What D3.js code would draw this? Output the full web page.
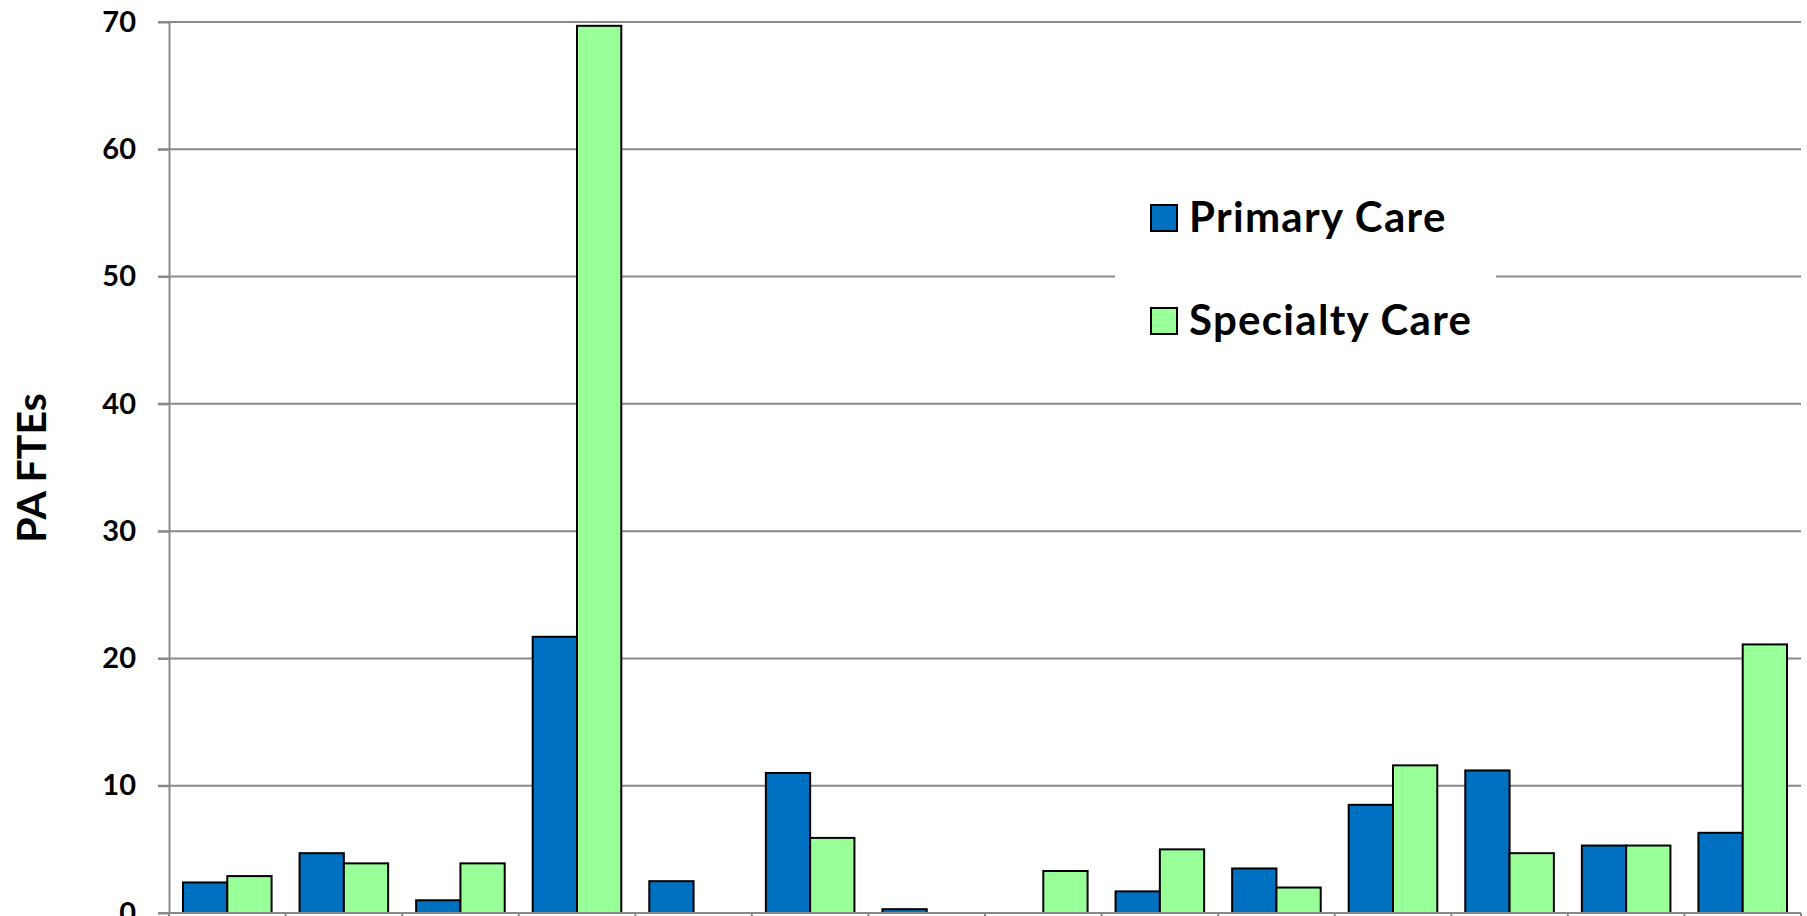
<!DOCTYPE html>
<meta charset="utf-8">
<html>
    <head>
        <style>
            html, body {
                margin: 0;
                padding: 0;
                background: #fff;
            }

            svg {
                display: block;
                font-family: Lato, "Open Sans", sans-serif;
                font-weight: bold;
            }

            .grid line {
                stroke: #898989;
                stroke-width: 2;
            }

            .axis path,
            .axis line {
                stroke: #898989;
                stroke-width: 2;
            }

            .bar {
                stroke: #000;
                stroke-width: 2;
            }
        </style>
    </head>
    <body>
        <svg width="1807" height="916"></svg>

        <script src="https://cdn.jsdelivr.net/npm/d3@7"></script>
        <script>
            // category labels sit below the visible area of the picture
            var categories = ['1', '2', '3', '4', '5', '6', '7', '8', '9', '10', '11', '12', '13', '14'];
            var series = ['Primary Care', 'Specialty Care'];
            var primaryCare = [2.4, 4.7, 1.0, 21.7, 2.5, 11.0, 0.3, 0, 1.7, 3.5, 8.5, 11.2, 5.3, 6.3];
            var specialtyCare = [2.9, 3.9, 3.9, 69.7, 0, 5.9, 0, 3.3, 5.0, 2.0, 11.6, 4.7, 5.3, 21.1];
            var yTicks = [0, 10, 20, 30, 40, 50, 60, 70];
            var colors = ['#0070c0', '#99ff99'];

            var svg = d3.select('svg');

            var plotLeft = 169, plotRight = 1801, plotTop = 22, plotBottom = 913;

            var x0 = d3.scaleBand()
                .domain(categories)
                .range([plotLeft, plotRight]);

            var x1 = d3.scaleBand()
                .domain(series)
                .range([0, x0.bandwidth()])
                .paddingOuter(0.316);

            var y = d3.scaleLinear()
                .domain([0, 70])
                .range([plotBottom, plotTop]);

            // gridlines
            svg.append('g')
                .attr('class', 'grid')
                .selectAll('line')
                .data(yTicks.filter(function (d) { return d > 0; }))
                .enter()
                    .append('line')
                    .attr('x1', plotLeft - 11)
                    .attr('x2', plotRight)
                    .attr('y1', function (d) { return y(d); })
                    .attr('y2', function (d) { return y(d); });

            var rows = categories.map(function (c, i) {
                return { cat: c, values: [primaryCare[i], specialtyCare[i]] };
            });

            var groups = svg.append('g')
                .selectAll('g')
                .data(rows)
                .enter()
                    .append('g')
                    .attr('transform', function (d) { return 'translate(' + x0(d.cat) + ',0)'; });

            groups.selectAll('rect')
                .data(function (d) {
                    return d.values.map(function (v, i) { return { s: series[i], v: v, i: i }; })
                        .filter(function (b) { return b.v > 0; });
                })
                .enter()
                    .append('rect')
                    .attr('class', 'bar')
                    .attr('x', function (d) { return x1(d.s); })
                    .attr('width', x1.bandwidth())
                    .attr('y', function (d) { return y(d.v); })
                    .attr('height', function (d) { return y(0) - y(d.v); })
                    .attr('fill', function (d) { return colors[d.i]; });

            // y axis
            var yAxis = svg.append('g')
                .attr('class', 'axis')
                .attr('transform', 'translate(' + plotLeft + ',0)')
                .call(d3.axisLeft(y).tickValues(yTicks).tickSize(11).tickSizeOuter(0).tickPadding(22));

            yAxis.selectAll('text')
                .attr('fill', '#000')
                .style('font-size', '29px')
                .style('font-family', 'Lato, sans-serif')
                .style('font-weight', 'bold');

            // x axis (labels fall outside the picture)
            var xAxis = svg.append('g')
                .attr('class', 'axis')
                .attr('transform', 'translate(0,' + plotBottom + ')');

            xAxis.append('line')
                .attr('x1', plotLeft - 11)
                .attr('x2', plotRight)
                .attr('y1', 0)
                .attr('y2', 0);

            xAxis.selectAll('line.tick')
                .data(categories.concat(['end']))
                .enter()
                    .append('line')
                    .attr('class', 'tick')
                    .attr('x1', function (d) { return d === 'end' ? plotRight : x0(d); })
                    .attr('x2', function (d) { return d === 'end' ? plotRight : x0(d); })
                    .attr('y1', 0)
                    .attr('y2', 11);

            // y axis title
            svg.append('text')
                .attr('transform', 'translate(46,468) rotate(-90)')
                .attr('text-anchor', 'middle')
                .style('font-size', '41px')
                .text('PA FTEs');

            // legend
            var legend = svg.append('g');

            legend.append('rect')
                .attr('x', 1115)
                .attr('y', 165)
                .attr('width', 381)
                .attr('height', 190)
                .attr('fill', '#fff');

            var items = legend.selectAll('g')
                .data(series)
                .enter()
                    .append('g')
                    .attr('transform', function (d, i) { return 'translate(1151,' + (205 + i * 103) + ')'; });

            items.append('rect')
                .attr('width', 26)
                .attr('height', 26)
                .attr('fill', function (d, i) { return colors[i]; })
                .attr('stroke', '#000')
                .attr('stroke-width', 2);

            items.append('text')
                .attr('x', 38)
                .attr('y', 27)
                .style('font-size', '42px')
                .style('letter-spacing', '1.3px')
                .text(function (d) { return d; });
        </script>
    </body>
</html>
